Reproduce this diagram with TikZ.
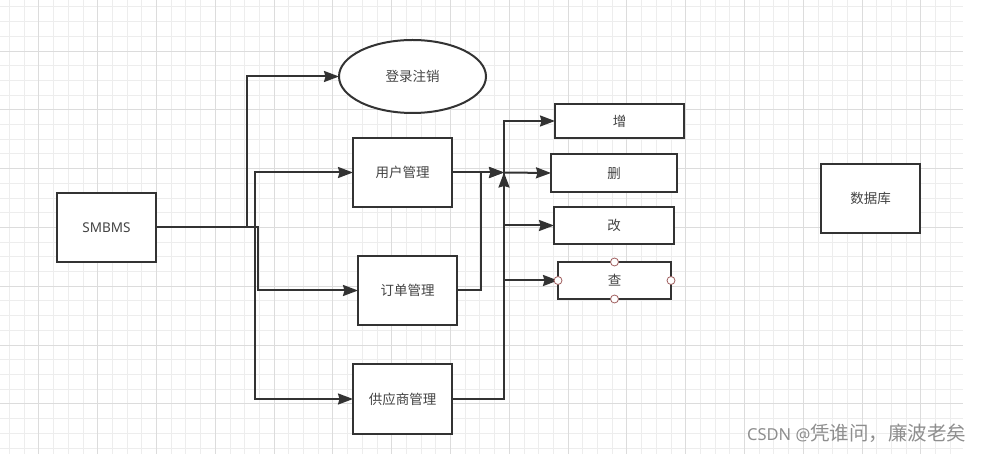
\documentclass[tikz,border=0pt]{standalone}
\usepackage{fontspec}
\setmainfont{Noto Sans}
\newfontfamily\cjk{Noto Sans CJK SC}
\usetikzlibrary{shapes.geometric,arrows.meta}
\definecolor{ink}{HTML}{333333}
\definecolor{txt}{HTML}{444444}
\definecolor{gridminor}{HTML}{EDEDED}
\definecolor{gridmajor}{HTML}{DCDCDC}
\definecolor{handle}{HTML}{A06060}
\definecolor{wm}{HTML}{8E8E8E}
\tikzset{
  box/.style={draw=ink, line width=2pt, fill=white, rectangle, inner sep=0pt, outer sep=0pt,
    font=\cjk\fontsize{13.5}{15}\selectfont, text=txt},
  oval/.style={draw=ink, line width=2pt, fill=white, ellipse, inner sep=0pt, outer sep=0pt,
    minimum width=147pt, minimum height=73pt, font=\cjk\fontsize{13.5}{15}\selectfont, text=txt},
  conn/.style={draw=ink, line width=2pt, -{Stealth[length=15pt,width=11pt,inset=1.5pt]}},
  hdl/.style={circle, draw=handle, fill=white, line width=0.8pt, minimum size=8pt, inner sep=0pt},
}
\begin{document}
\begin{tikzpicture}[x=1pt,y=-1pt]
\useasboundingbox (0,0) rectangle (993,454);
\fill[white] (0,0) rectangle (993,454);
% grid
\foreach \k in {0,...,64} {\draw[gridminor, line width=1pt] ({9.5+14.7*\k},0) -- ({9.5+14.7*\k},454);}
\foreach \j in {0,...,30} {\draw[gridminor, line width=1pt] (0,{7+14.7*\j}) -- (963,{7+14.7*\j});}
\foreach \k in {2,6,...,62} {\draw[gridmajor, line width=1.1pt] ({9.5+14.7*\k},0) -- ({9.5+14.7*\k},454);}
\foreach \j in {3,7,...,27} {\draw[gridmajor, line width=1.1pt] (0,{7+14.7*\j}) -- (963,{7+14.7*\j});}

% nodes
\node[box, minimum width=99pt, minimum height=69pt, font=\fontsize{13.5}{15}\selectfont] (smbms) at (106.5,227.5) {SMBMS};
\node[oval] (login) at (412.5,76.5) {登录注销};
\node[box, minimum width=99pt, minimum height=69pt] (user) at (402.5,172.5) {用户管理};
\node[box, minimum width=99pt, minimum height=69pt] (order) at (407.5,290.5) {订单管理};
\node[box, minimum width=99pt, minimum height=70pt] (supp) at (402.5,399) {供应商管理};
\node[box, minimum width=129pt, minimum height=34pt] (add) at (619.5,121) {增};
\node[box, minimum width=126pt, minimum height=38pt] (del) at (614,173) {删};
\node[box, minimum width=120pt, minimum height=37pt] (mod) at (614,225.5) {改};
\node[box, minimum width=113pt, minimum height=37pt] (qry) at (614.5,280.5) {查};
\node[box, minimum width=99pt, minimum height=69pt] (db) at (870.5,198.5) {数据库};

% left connectors
\draw[conn] (smbms.east) -- (247,227.5) |- (login.west);
\draw[conn] (smbms.east) -- (255,227.5) |- (user.west);
\draw[conn] (smbms.east) -- (258,227.5) |- (order.west);
\draw[conn] (smbms.east) -- (255,227.5) |- (supp.west);

% right connectors
\coordinate (bus) at (504,172.5);
\draw[conn] (user.east) -- (bus);
\draw[conn] (order.east) -- (481,290.5) |- (bus);
\draw[conn] (supp.east) -- (504,399) -- (bus);
\draw[conn] (bus) |- (add.west);
\draw[conn] (bus) -- (del.west);
\draw[conn] (bus) |- (mod.west);
\draw[conn] (bus) |- (qry.west);

% handles on 查
\node[hdl] (h1) at (qry.west) {};
\node[hdl] (h2) at (qry.east) {};
\node[hdl] (h3) at (qry.north) {};
\node[hdl] (h4) at (qry.south) {};

% watermark
\node[anchor=west, text=wm, inner sep=0pt] (wmk) at (747,433) {\fontsize{16.5}{20}\selectfont CSDN @\cjk\fontsize{19.5}{21}\selectfont 凭谁问，廉波老矣};
\end{tikzpicture}
\end{document}
